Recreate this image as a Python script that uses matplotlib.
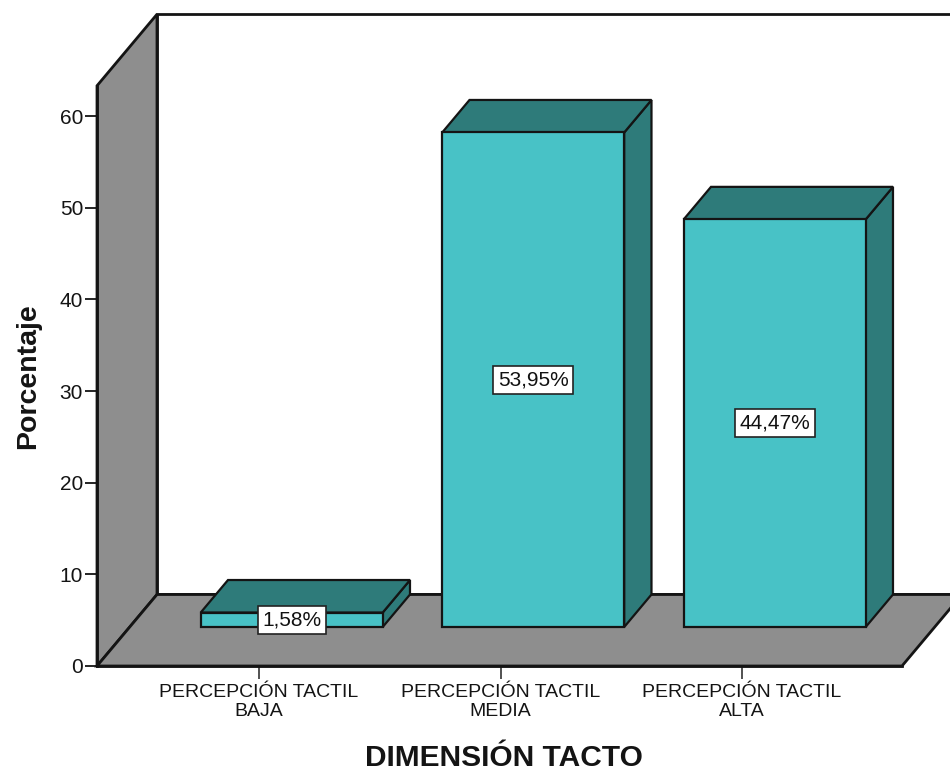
import matplotlib
matplotlib.use("Agg")
import matplotlib.pyplot as plt
from matplotlib.patches import Polygon

# datos del grafico
categorias = ["PERCEPCIÓN TACTIL\nBAJA", "PERCEPCIÓN TACTIL\nMEDIA", "PERCEPCIÓN TACTIL\nALTA"]
porcentajes = [1.58, 53.95, 44.47]
yticks = [0, 10, 20, 30, 40, 50, 60]

plt.rcParams['font.family'] = ['Liberation Sans', 'DejaVu Sans']

# colores estilo SPSS
C_FRENTE = '#48c2c6'
C_OSCURO = '#2e7b7a'
C_GRIS = '#8e8e8e'
C_LINEA = '#141414'

# geometria de la caja 3D (unidades de datos)
DX, DY = 0.2484, 7.8        # desplazamiento de profundidad completo
X0, X1 = -0.6708, 2.6625    # borde frontal del piso
TOPE = 63.3                 # altura del eje
F1, F2 = 0.545, 1.0         # profundidad frontal / trasera de las barras
ANCHO = 0.7536


def pt(x, y, t):
    return (x + t * DX, y + t * DY)


fig = plt.figure(figsize=(9.5, 7.73), dpi=100)
ax = fig.add_axes([0, 0, 1, 1])
ax.set_xlim(-1.0725, 2.8613)
ax.set_ylim(-11.673, 72.655)

# pared del fondo
ax.add_patch(Polygon([pt(X0, 0, 1), pt(X1, 0, 1), pt(X1, TOPE, 1), pt(X0, TOPE, 1)],
                     closed=True, facecolor='white', edgecolor=C_LINEA, lw=2.0, zorder=1))
# pared izquierda
ax.add_patch(Polygon([pt(X0, 0, 0), pt(X0, TOPE, 0), pt(X0, TOPE, 1), pt(X0, 0, 1)],
                     closed=True, facecolor=C_GRIS, edgecolor=C_LINEA, lw=2.0, zorder=2))
# piso
ax.add_patch(Polygon([pt(X0, 0, 0), pt(X1, 0, 0), pt(X1, 0, 1), pt(X0, 0, 1)],
                     closed=True, facecolor=C_GRIS, edgecolor=C_LINEA, lw=2.0, zorder=2))

# barras
for i, v in enumerate(porcentajes):
    xl, xr = i - ANCHO / 2, i + ANCHO / 2
    frente = [pt(xl, 0, F1), pt(xr, 0, F1), pt(xr, v, F1), pt(xl, v, F1)]
    arriba = [pt(xl, v, F1), pt(xr, v, F1), pt(xr, v, F2), pt(xl, v, F2)]
    lado = [pt(xr, 0, F1), pt(xr, v, F1), pt(xr, v, F2), pt(xr, 0, F2)]
    for poly, col in [(lado, C_OSCURO), (arriba, C_OSCURO), (frente, C_FRENTE)]:
        ax.add_patch(Polygon(poly, closed=True, facecolor=col, edgecolor=C_LINEA,
                             lw=1.6, joinstyle='miter', zorder=3))
    cx, cy = pt(i, v / 2, F1)
    ax.text(cx, cy, f"{v:.2f}%".replace('.', ','), ha='center', va='center',
            fontsize=15, color='#111111', zorder=5,
            bbox=dict(boxstyle='square,pad=0.22', facecolor='white',
                      edgecolor='#222222', lw=1.2))

# ejes
for s in ['top', 'right']:
    ax.spines[s].set_visible(False)
ax.spines['left'].set_position(('data', X0))
ax.spines['left'].set_bounds(0, TOPE)
ax.spines['left'].set_linewidth(2.0)
ax.spines['left'].set_color(C_LINEA)
ax.spines['left'].set_zorder(4)
ax.spines['bottom'].set_position(('data', 0))
ax.spines['bottom'].set_bounds(X0, X1)
ax.spines['bottom'].set_linewidth(2.0)
ax.spines['bottom'].set_color(C_LINEA)

ax.set_yticks(yticks)
ax.set_yticklabels([str(t) for t in yticks])
ax.tick_params(axis='y', direction='out', length=9, width=1.3, pad=1,
               labelsize=15, colors=C_LINEA)
ax.set_xticks(range(len(categorias)))
ax.set_xticklabels(categorias, linespacing=1.15)
ax.tick_params(axis='x', direction='out', length=9, width=1.2, pad=4,
               labelsize=14, colors='#333333', labelcolor=C_LINEA)

ax.text(-1.0725 + 28 / 241.5, 376 / -9.1667 + 72.655, "Porcentaje", rotation=90,
        ha='center', va='center', fontsize=20.5, fontweight='bold', color=C_LINEA)
ax.text((504 - 259) / 241.5, (666 - 758) / 9.1667, "DIMENSIÓN TACTO",
        ha='center', va='center', fontsize=21.5, fontweight='bold', color=C_LINEA)

fig.savefig("out.png", dpi=100, facecolor='white')
